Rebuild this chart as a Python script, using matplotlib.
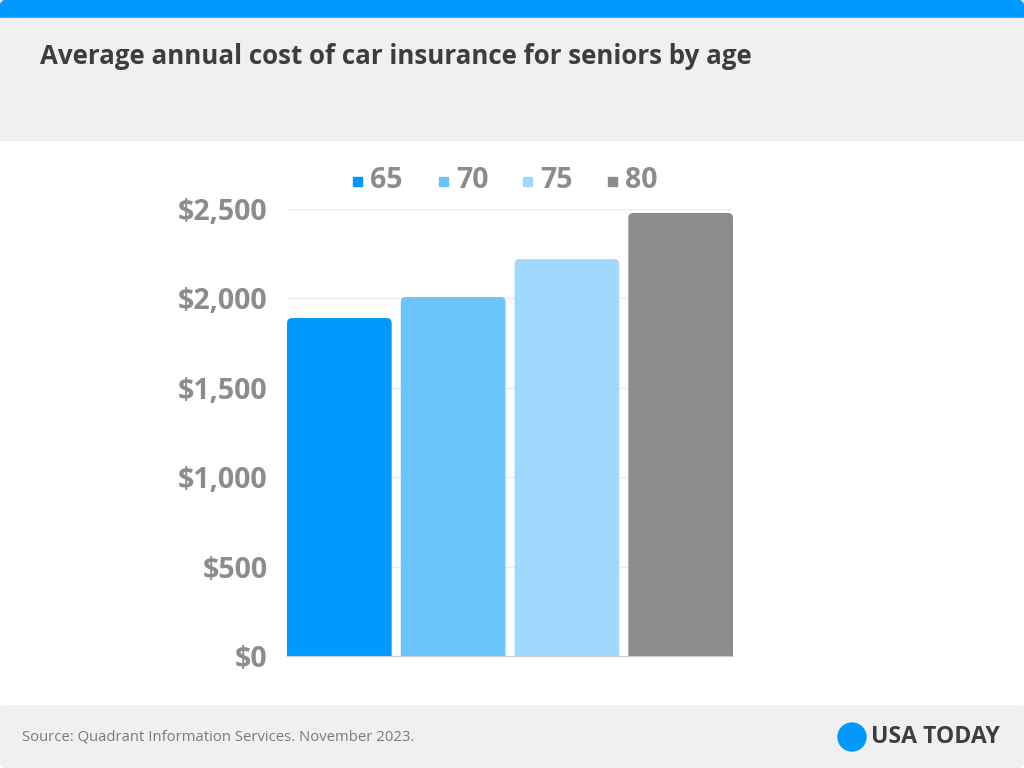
import matplotlib
matplotlib.use("Agg")
import matplotlib.pyplot as plt
from matplotlib.patches import Rectangle, FancyBboxPatch, Circle

ages = ["65", "70", "75", "80"]
costs = [1890, 2008, 2220, 2478]
colors = ["#0099FF", "#6BC4FC", "#A0D9FD", "#8C8C8C"]
yticks = [0, 500, 1000, 1500, 2000, 2500]
ytick_labels = ["$0", "$500", "$1,000", "$1,500", "$2,000", "$2,500"]
title = "Average annual cost of car insurance for seniors by age"
source = "Source: Quadrant Information Services. November 2023."

W, H = 1024, 768
fig = plt.figure(figsize=(W / 100, H / 100), dpi=100)
fig.patch.set_facecolor("white")

bg = fig.add_axes([0, 0, 1, 1])
bg.set_xlim(0, W)
bg.set_ylim(H, 0)
bg.axis("off")
bg.add_patch(Rectangle((0, 0), W, 140, color="#F0F0F0", zorder=0))
bg.add_patch(FancyBboxPatch((0, 0), W, 30, boxstyle="round,pad=0,rounding_size=8",
                            color="#0099FF", zorder=1))
bg.add_patch(Rectangle((0, 18), W, 20, color="#F0F0F0", zorder=2))
bg.add_patch(FancyBboxPatch((0, 706), W, 62, boxstyle="round,pad=0,rounding_size=8",
                            color="#F0F0F0", zorder=0))
bg.add_patch(Rectangle((0, 706), W, 20, color="#F0F0F0", zorder=0))
bg.text(40, 56, title, fontsize=18.6, fontweight="bold", color="#3D3D3D",
        family="Open Sans", va="center", ha="left")
bg.text(22, 737, source, fontsize=10.7, color="#7A7A7A", family="Open Sans",
        va="center", ha="left")
bg.add_patch(Circle((852, 737), 14, color="#0099FF"))
bg.text(871, 737, "USA TODAY", fontsize=16.6, fontweight="bold", color="#3D3D3D",
        family="Open Sans", va="center", ha="left")

leg_x = [353, 439, 523, 608]
for i, (a, c) in enumerate(zip(ages, colors)):
    bg.add_patch(Rectangle((leg_x[i], 177), 9, 9, color=c))
    bg.text(leg_x[i] + 17, 181, a, fontsize=20.5, fontweight="bold", color="#8C8C8C",
            family="Open Sans", va="center", ha="left")

x0, x1 = 287, 733
yb, yt = 656, 209
ax = fig.add_axes([x0 / W, 1 - yb / H, (x1 - x0) / W, (yb - yt) / H])
ax.set_facecolor("none")
n = len(ages)
width = 0.92
xs = list(range(n))
bars = ax.bar(xs, costs, width=width, color=colors, zorder=3)
px_y = 2500 / (yb - yt)
px_x = (n - 1 + width) / (x1 - x0)
r = 5
for b, c in zip(bars, colors):
    b.set_visible(False)
    bx, bw, bh = b.get_x(), b.get_width(), b.get_height()
    ext = 20 * px_y
    ax.add_patch(FancyBboxPatch((bx, -ext), bw, bh + ext,
                                boxstyle=f"round,pad=0,rounding_size={r * px_x}",
                                mutation_aspect=px_y / px_x, facecolor=c, edgecolor="none",
                                zorder=3))
ax.set_xlim(-width / 2, n - 1 + width / 2)
ax.set_ylim(0, 2500)
ax.set_yticks(yticks)
ax.set_yticklabels(ytick_labels)
for lbl in ax.get_yticklabels():
    lbl.set_fontsize(20.5)
    lbl.set_fontweight("bold")
    lbl.set_color("#8C8C8C")
    lbl.set_family("Open Sans")
ax.tick_params(axis="y", length=0, pad=14)
ax.set_xticks([])
ax.grid(axis="y", color="#EBEBEB", linewidth=1, zorder=0)
for s in ["top", "right", "left"]:
    ax.spines[s].set_visible(False)
ax.spines["bottom"].set_color("#CCCCCC")
ax.spines["bottom"].set_zorder(4)

fig.savefig("out.png", dpi=100, facecolor="white")
